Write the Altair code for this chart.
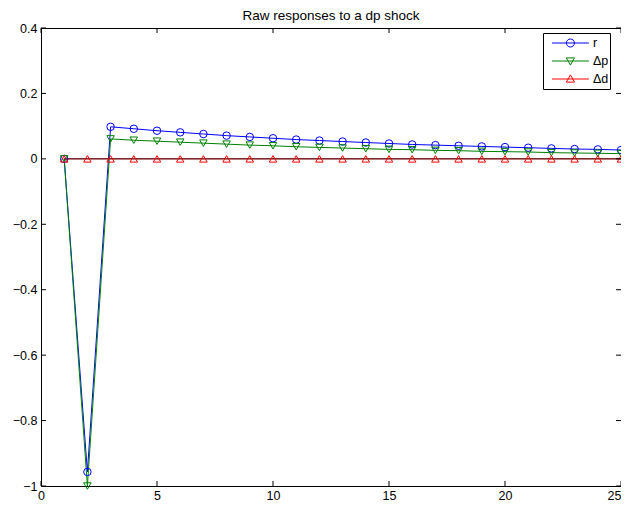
import altair as alt
import pandas as pd

# ---- data ----
periods = list(range(1, 26))
r_vals = [0.0, -0.957, 0.098, 0.092, 0.086, 0.081, 0.076, 0.071, 0.067, 0.063,
          0.059, 0.056, 0.053, 0.050, 0.047, 0.044, 0.042, 0.040, 0.038, 0.036,
          0.034, 0.032, 0.030, 0.029, 0.027]
dp_vals = [0.0, -1.0, 0.061, 0.057, 0.054, 0.051, 0.048, 0.045, 0.042, 0.040,
           0.037, 0.035, 0.033, 0.031, 0.029, 0.028, 0.026, 0.025, 0.023, 0.022,
           0.021, 0.019, 0.018, 0.017, 0.016]
dd_vals = [0.0, 0.0, 0.0, 0.0, 0.0, 0.0, 0.0, 0.0, 0.0, 0.0,
           0.0, 0.0, 0.0, 0.0, 0.0, 0.0, 0.0, 0.0, 0.0, 0.0,
           0.0, 0.0, 0.0, 0.0, 0.0]
series_names = ["r", "\u0394p", "\u0394d"]
series_colors = ["#0000ff", "#008000", "#ff0000"]
series_shapes = ["circle", "triangle-down", "triangle-up"]
x_ticks = [0, 5, 10, 15, 20, 25]
y_ticks = [-1, -0.8, -0.6, -0.4, -0.2, 0, 0.2, 0.4]
zero_line = {"y": 0, "x_start": 1, "x_end": 25}
title_text = "Raw responses to a dp shock"

W, H = 580, 458
FONT = "Liberation Sans"
LABEL_SIZE = 12.5

rows = []
for name, vals in zip(series_names, [r_vals, dp_vals, dd_vals]):
    for t, v in zip(periods, vals):
        rows.append({"t": t, "value": v, "series": name})
df = pd.DataFrame(rows)
xt = pd.DataFrame({"v": x_ticks})
yt = pd.DataFrame({"v": y_ticks})
zl = pd.DataFrame([zero_line])
tl = pd.DataFrame({"title": [title_text]})

xscale = alt.Scale(domain=[0, 25], nice=False, zero=False)
yscale = alt.Scale(domain=[-1, 0.4], nice=False, zero=False)

x_axis = alt.Axis(values=x_ticks, format="d", title=None, ticks=False, grid=False,
                  labelPadding=3, domainColor="black", labelFlush=False,
                  labelAlign={"condition": {"test": "datum.value == 25", "value": "right"},
                              "value": "center"})
y_axis = alt.Axis(values=y_ticks, format=".1~f", title=None, ticks=False, grid=False,
                  labelPadding=4, domainColor="black")

# legend symbols: line segment with marker (custom paths)
leg_paths = [
    "M-0.69,0H0.85M0.247,0A0.167,0.167,0,1,1,-0.087,0A0.167,0.167,0,1,1,0.247,0Z",
    "M-0.69,0H0.85M-0.09,-0.13L0.25,-0.13L0.08,0.17Z",
    "M-0.69,0H0.85M-0.09,0.13L0.25,0.13L0.08,-0.17Z",
]

base = alt.Chart(df)

zero = alt.Chart(zl).mark_rule(color="black", strokeWidth=1, opacity=0.8).encode(
    x=alt.X("x_start:Q", scale=xscale, axis=x_axis),
    x2="x_end:Q",
    y=alt.Y("y:Q", scale=yscale, axis=y_axis),
)

line_layers = []
point_layers = []
for name, col, shape in zip(series_names, series_colors, series_shapes):
    sub = base.transform_filter(alt.datum.series == name)
    line_layers.append(
        sub.mark_line(color=col, strokeWidth=1).encode(
            x=alt.X("t:Q", scale=xscale, axis=x_axis),
            y=alt.Y("value:Q", scale=yscale, axis=y_axis),
            order=alt.Order("t:Q"),
        )
    )
    point_layers.append(
        sub.mark_point(shape=shape, color=col, filled=False, size=56,
                       strokeWidth=1, opacity=1).encode(
            x=alt.X("t:Q", scale=xscale, axis=x_axis),
            y=alt.Y("value:Q", scale=yscale, axis=y_axis),
        )
    )

leg_kw = dict(title=None, orient="none", legendX=502, legendY=5, padding=1,
              strokeColor="black", fillColor="white", cornerRadius=0,
              clipHeight=18, rowPadding=0, labelFont=FONT, labelFontSize=LABEL_SIZE,
              labelColor="black", labelOffset=0, symbolSize=2304,
              symbolOpacity=1, symbolStrokeWidth=1,
              labelExpr="datum.label + '\u00a0'")

legend_layer = base.mark_point(filled=False, opacity=0, size=2304, strokeWidth=1).encode(
    x=alt.X("t:Q", scale=xscale, axis=x_axis),
    y=alt.Y("value:Q", scale=yscale, axis=y_axis),
    stroke=alt.Stroke("series:N", scale=alt.Scale(domain=series_names, range=series_colors),
                      legend=alt.Legend(**leg_kw)),
    shape=alt.Shape("series:N", scale=alt.Scale(domain=series_names, range=leg_paths),
                    legend=alt.Legend(**leg_kw)),
)

tick_bottom = alt.Chart(xt).mark_rule(color="black", strokeWidth=1).encode(
    x=alt.X("v:Q", scale=xscale, axis=x_axis), y=alt.value(H), y2=alt.value(H - 5))
tick_top = alt.Chart(xt).mark_rule(color="black", strokeWidth=1).encode(
    x=alt.X("v:Q", scale=xscale, axis=x_axis), y=alt.value(0), y2=alt.value(5))
tick_left = alt.Chart(yt).mark_rule(color="black", strokeWidth=1).encode(
    y=alt.Y("v:Q", scale=yscale, axis=y_axis), x=alt.value(0), x2=alt.value(5))
tick_right = alt.Chart(yt).mark_rule(color="black", strokeWidth=1).encode(
    y=alt.Y("v:Q", scale=yscale, axis=y_axis), x=alt.value(W), x2=alt.value(W - 5))

# chart title as a text mark above the plot area
title_mark = alt.Chart(tl).mark_text(
    font=FONT, fontSize=13.5, color="black", align="center", baseline="alphabetic"
).encode(text="title:N", x=alt.value(W / 2), y=alt.value(-8))

chart = alt.layer(
    *line_layers, zero, *point_layers, legend_layer,
    tick_bottom, tick_top, tick_left, tick_right, title_mark,
).properties(
    width=W, height=H,
    autosize=alt.AutoSizeParams(type="none"),
    padding={"left": 33, "top": 20, "right": 0, "bottom": 15},
).configure_view(
    stroke="black", strokeWidth=1
).configure_axis(
    labelFont=FONT, labelFontSize=LABEL_SIZE, labelColor="black", domainWidth=1
)

chart.save("out.html", embed_options={"renderer": "svg", "actions": False})
